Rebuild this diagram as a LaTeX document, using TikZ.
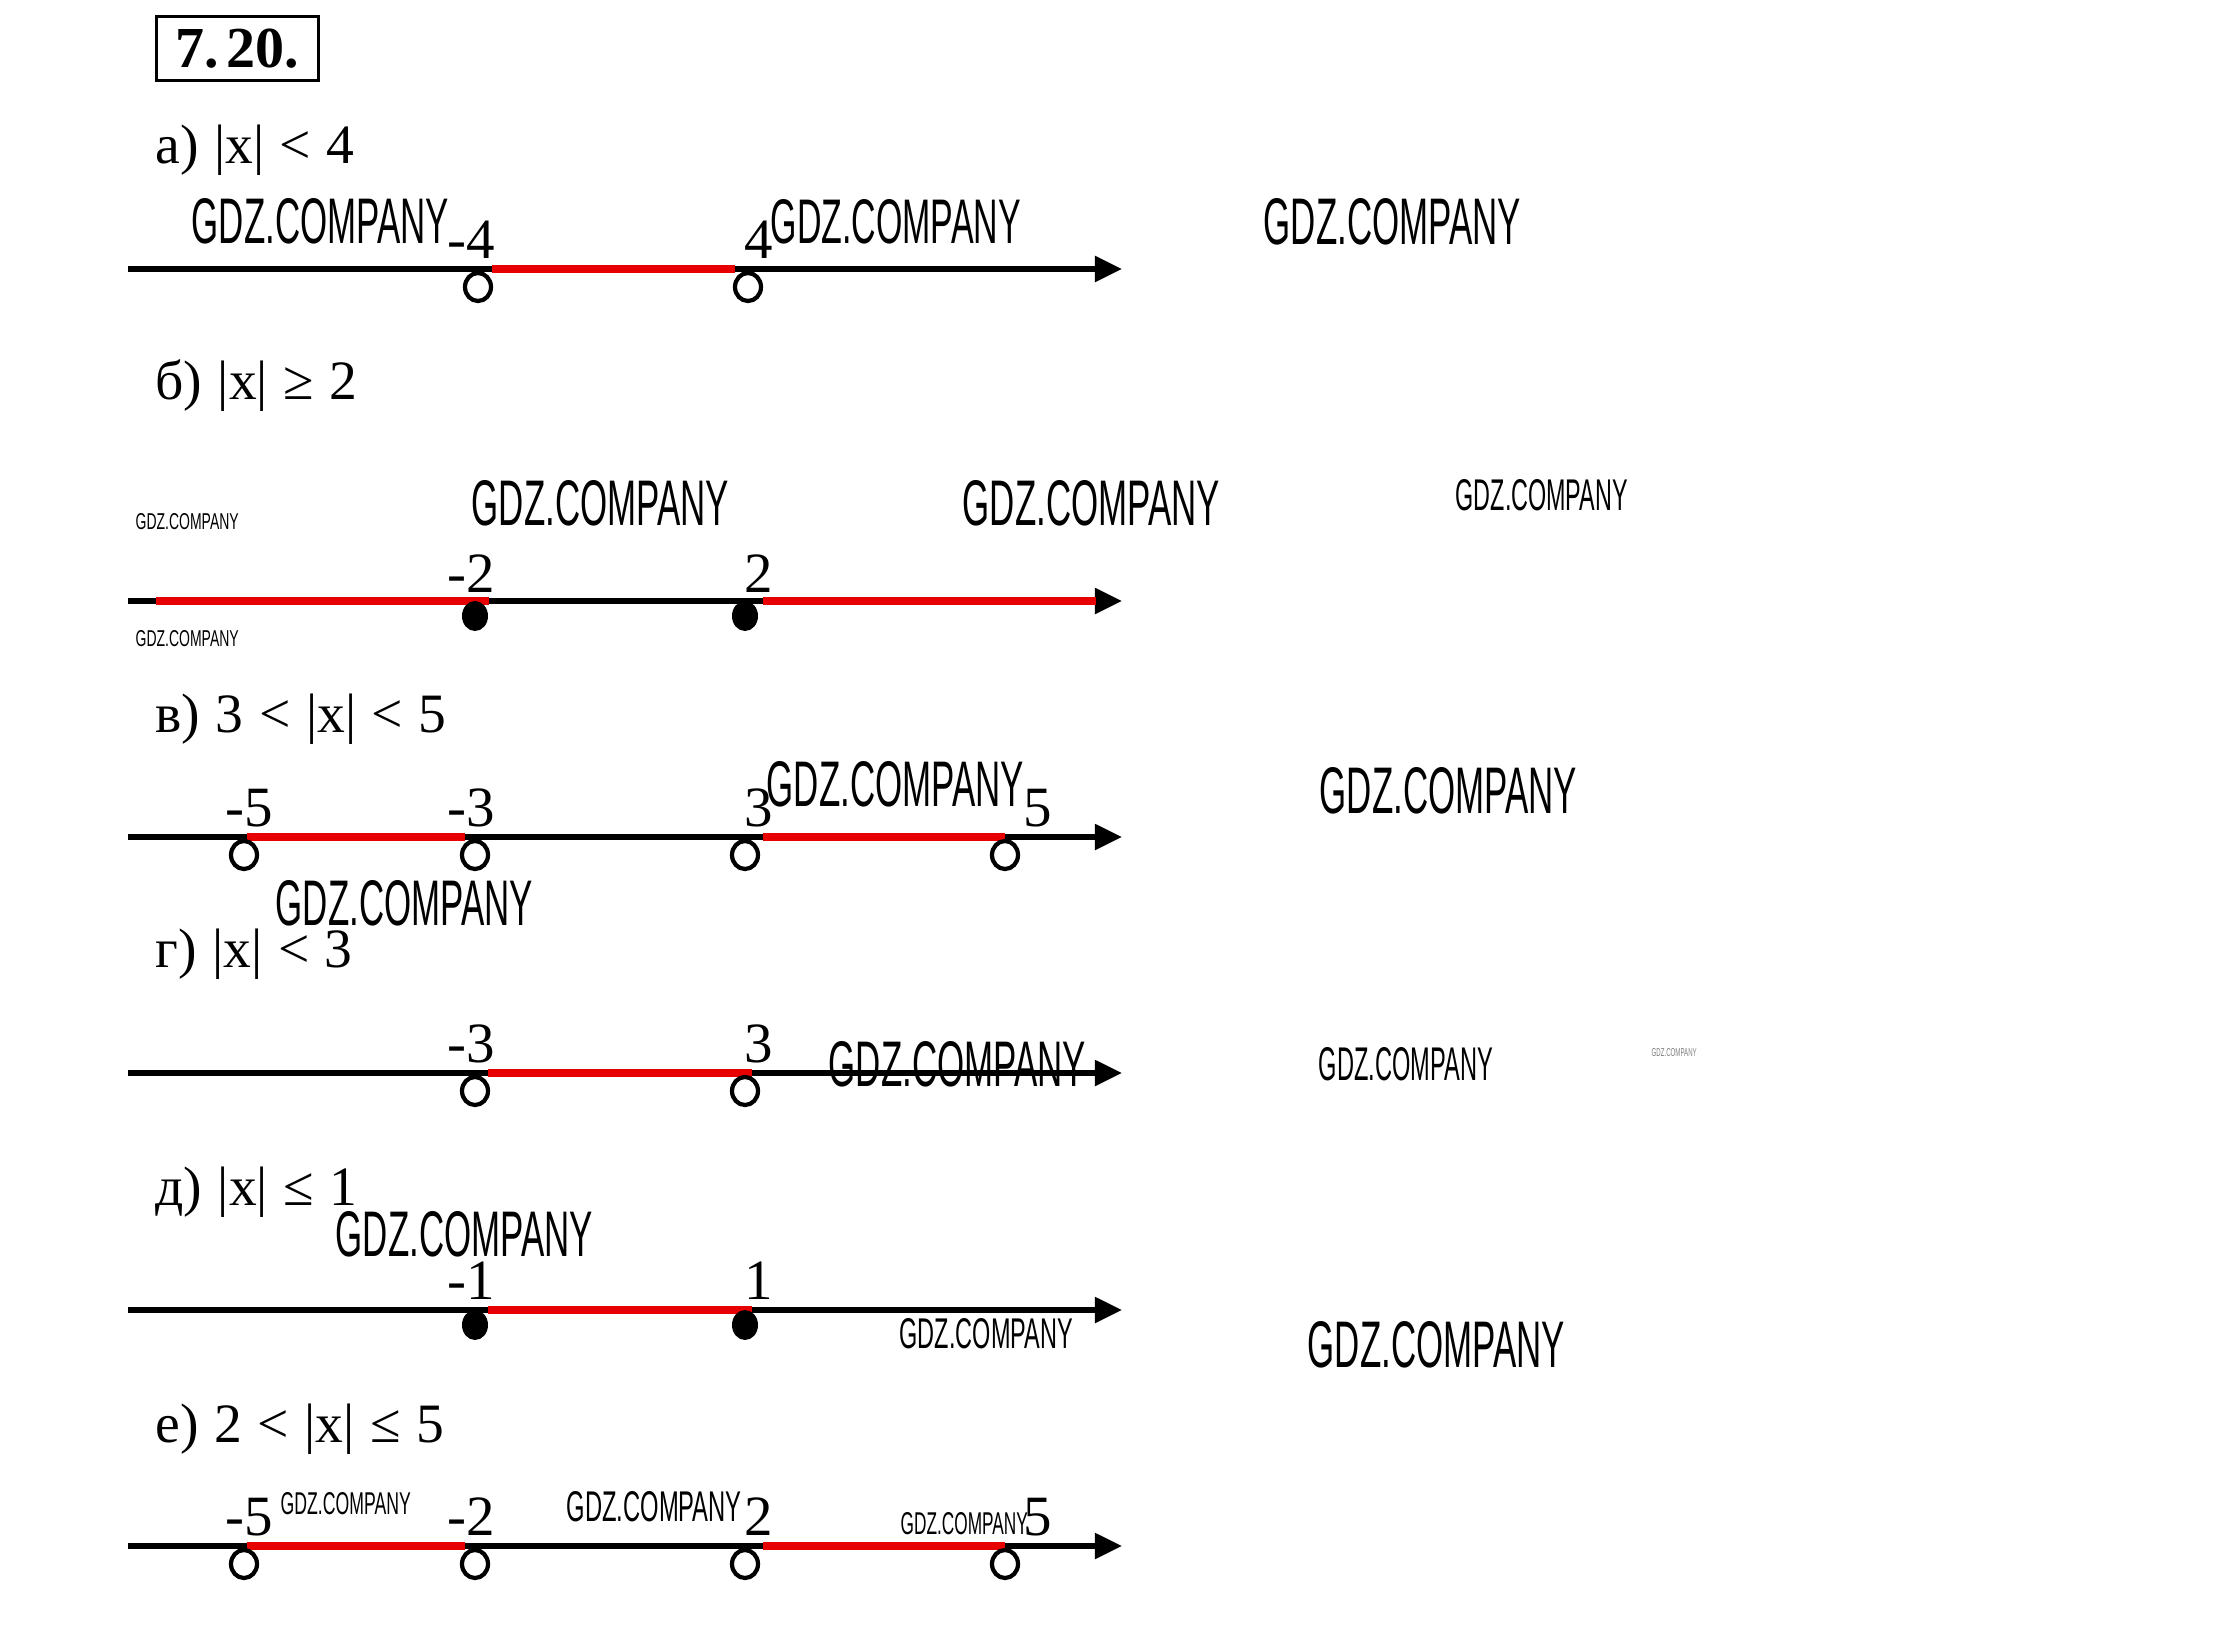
\documentclass[tikz,border=0pt]{standalone}
\usepackage{fontspec}
\usepackage{graphicx}
\setmainfont{Liberation Serif}
\newfontfamily\hdrfont[WordSpace=1.12]{Liberation Serif}
\newfontfamily\wmfont{Liberation Sans}
\usetikzlibrary{shapes.geometric,arrows.meta}
\definecolor{segred}{RGB}{230,0,0}
\newcommand{\wmtext}[2]{\resizebox{#1cm}{#2cm}{\wmfont GDZ.COMPANY}}
\begin{document}
\begin{tikzpicture}[x=0.01cm,y=-0.01cm,
  axisline/.style={line width=1.45pt,-{Triangle[length=0.27cm,width=0.25cm]}},
  redseg/.style={segred,line width=2.0pt},
  opendot/.style={ellipse,draw,line width=1.2pt,minimum width=0.26cm,minimum height=0.28cm,inner sep=0pt},
  filldot/.style={ellipse,fill,minimum width=0.26cm,minimum height=0.3cm,inner sep=0pt},
  numlbl/.style={font=\fontsize{16.2}{18}\selectfont,inner sep=0pt},
  hdr/.style={font=\hdrfont\fontsize{15.8}{18}\selectfont,inner sep=0pt,anchor=base west},
  wm/.style={inner sep=0pt,anchor=south west}]
\fill[white] (0,0) rectangle (2232,1648);
\useasboundingbox (0,0) rectangle (2232,1648);

% title
\node[draw,line width=1.1pt,minimum width=1.62cm,minimum height=0.64cm,inner sep=0pt,
  font=\bfseries\fontsize{16.5}{18}\selectfont] (title) at (237.5,48.5) {7.\hspace{0.08cm}20.};

% headers
\node[hdr] (ha) at (155,163) {а) |x| < 4};
\node[hdr] (hb) at (155,399) {б) |x| ≥ 2};
\node[hdr] (hc) at (155,732) {в) 3 < |x| < 5};
\node[hdr] (hd) at (155,967) {г) |x| < 3};
\node[hdr] (he) at (155,1205) {д) |x| ≤ 1};
\node[hdr] (hf) at (155,1442) {е) 2 < |x| ≤ 5};

% ---------- a ----------
\coordinate (aL) at (128,269); \coordinate (aR) at (1122,269);
\draw[axisline] (aL) -- (aR);
\coordinate (ar1) at (492,269); \coordinate (ar2) at (735,269);
\draw[redseg] (ar1) -- (ar2);
\node[opendot] (ap1) at (478,287) {};
\node[opendot] (ap2) at (748,287) {};
\node[numlbl,anchor=base east] (al1) at (496,258) {-4};
\node[numlbl,anchor=base west] (al2) at (744,258) {4};

% ---------- b ----------
\coordinate (bL) at (128,601); \coordinate (bR) at (1122,601);
\draw[axisline] (bL) -- (bR);
\coordinate (br1) at (156,601); \coordinate (br2) at (489,601);
\coordinate (br3) at (763,601); \coordinate (br4) at (1096,601);
\draw[redseg] (br1) -- (br2);
\draw[redseg] (br3) -- (br4);
\node[filldot] (bp1) at (475,616) {};
\node[filldot] (bp2) at (745,616) {};
\node[numlbl,anchor=base east] (bl1) at (496,592) {-2};
\node[numlbl,anchor=base west] (bl2) at (744,592) {2};

% ---------- c ----------
\coordinate (cL) at (128,837); \coordinate (cR) at (1122,837);
\draw[axisline] (cL) -- (cR);
\coordinate (cr1) at (247,837); \coordinate (cr2) at (465,837);
\coordinate (cr3) at (763,837); \coordinate (cr4) at (1005,837);
\draw[redseg] (cr1) -- (cr2);
\draw[redseg] (cr3) -- (cr4);
\node[opendot] (cp1) at (244,855) {};
\node[opendot] (cp2) at (475,855) {};
\node[opendot] (cp3) at (745,855) {};
\node[opendot] (cp4) at (1005,855) {};
\node[numlbl,anchor=base east] (cl1) at (274,826) {-5};
\node[numlbl,anchor=base east] (cl2) at (496,826) {-3};
\node[numlbl,anchor=base west] (cl3) at (744,826) {3};
\node[numlbl,anchor=base west] (cl4) at (1023,826) {5};

% ---------- d ----------
\coordinate (dL) at (128,1073); \coordinate (dR) at (1122,1073);
\draw[axisline] (dL) -- (dR);
\coordinate (dr1) at (488,1073); \coordinate (dr2) at (752,1073);
\draw[redseg] (dr1) -- (dr2);
\node[opendot] (dp1) at (475,1091) {};
\node[opendot] (dp2) at (745,1091) {};
\node[numlbl,anchor=base east] (dl1) at (496,1062) {-3};
\node[numlbl,anchor=base west] (dl2) at (744,1062) {3};

% ---------- e ----------
\coordinate (eL) at (128,1310); \coordinate (eR) at (1122,1310);
\draw[axisline] (eL) -- (eR);
\coordinate (er1) at (488,1310); \coordinate (er2) at (752,1310);
\draw[redseg] (er1) -- (er2);
\node[filldot] (ep1) at (475,1325) {};
\node[filldot] (ep2) at (745,1325) {};
\node[numlbl,anchor=base east] (el1) at (496,1299) {-1};
\node[numlbl,anchor=base west] (el2) at (744,1299) {1};

% ---------- f ----------
\coordinate (fL) at (128,1546); \coordinate (fR) at (1122,1546);
\draw[axisline] (fL) -- (fR);
\coordinate (fr1) at (247,1546); \coordinate (fr2) at (465,1546);
\coordinate (fr3) at (763,1546); \coordinate (fr4) at (1005,1546);
\draw[redseg] (fr1) -- (fr2);
\draw[redseg] (fr3) -- (fr4);
\node[opendot] (fp1) at (244,1564) {};
\node[opendot] (fp2) at (475,1564) {};
\node[opendot] (fp3) at (745,1564) {};
\node[opendot] (fp4) at (1005,1564) {};
\node[numlbl,anchor=base east] (fl1) at (274,1535) {-5};
\node[numlbl,anchor=base east] (fl2) at (496,1535) {-2};
\node[numlbl,anchor=base west] (fl3) at (744,1535) {2};
\node[numlbl,anchor=base west] (fl4) at (1023,1535) {5};

% ---------- watermarks ----------
\node[wm] (w1) at (191,245) {\wmtext{2.57}{0.45}};
\node[wm] (w2) at (770,245) {\wmtext{2.50}{0.44}};
\node[wm] (w3) at (1263,246) {\wmtext{2.57}{0.46}};
\node[wm] (w4) at (135,530) {\wmtext{1.03}{0.16}};
\node[wm] (w5) at (135,647) {\wmtext{1.03}{0.16}};
\node[wm] (w6) at (471,527) {\wmtext{2.57}{0.45}};
\node[wm] (w7) at (962,527) {\wmtext{2.57}{0.45}};
\node[wm] (w8) at (1455,512) {\wmtext{1.72}{0.31}};
\node[wm] (w9) at (766,808) {\wmtext{2.57}{0.45}};
\node[wm] (w10) at (1319,815) {\wmtext{2.57}{0.46}};
\node[wm] (w11) at (275,927) {\wmtext{2.57}{0.45}};
\node[wm] (w12) at (828,1088) {\wmtext{2.57}{0.45}};
\node[wm] (w13) at (1318,1082) {\wmtext{1.74}{0.33}};
\node[wm,text=gray] (w14) at (1651,1057) {\wmtext{0.45}{0.08}};
\node[wm] (w15) at (335,1258) {\wmtext{2.57}{0.45}};
\node[wm] (w16) at (899,1350) {\wmtext{1.73}{0.30}};
\node[wm] (w17) at (1307,1369) {\wmtext{2.57}{0.46}};
\node[wm] (w18) at (280,1515) {\wmtext{1.30}{0.22}};
\node[wm] (w19) at (566,1523) {\wmtext{1.75}{0.30}};
\node[wm] (w20) at (900,1535) {\wmtext{1.27}{0.22}};
\end{tikzpicture}
\end{document}
